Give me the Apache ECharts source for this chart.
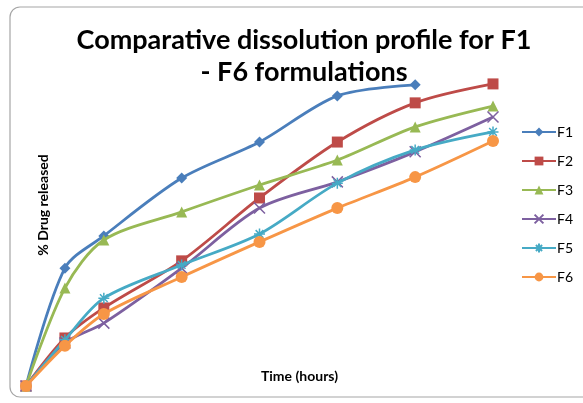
<!DOCTYPE html>
<html>
<head>
<meta charset="utf-8">
<script src="https://cdn.jsdelivr.net/npm/echarts@6/dist/echarts.min.js"></script>
<style>
  html, body { margin: 0; padding: 0; background: #fff; }
  #chart { width: 583px; height: 403px; }
</style>
</head>
<body>
<div id="chart"></div>
<script>
// Sampling times (hours)
var hours = [0, 0.5, 1, 2, 3, 4, 5, 6];

// Cumulative % drug released for each formulation
var f1 = [0, 37.3, 47.5, 65.8, 77.2, 91.8, 95.3];
var f2 = [0, 15.2, 24.7, 39.6, 59.5, 77.2, 89.6, 95.6];
var f3 = [0, 31.0, 46.2, 55.1, 63.6, 71.5, 82.0, 88.6];
var f4 = [0, 13.6, 19.9, 37.3, 56.3, 64.6, 74.1, 85.1];
var f5 = [0, 14.6, 27.8, 38.3, 48.1, 64.2, 74.7, 80.4];
var f6 = [0, 12.7, 22.8, 34.5, 45.6, 56.3, 66.1, 77.5];

var names = ['F1', 'F2', 'F3', 'F4', 'F5', 'F6'];
var colors = ['#4A7EBB', '#BE4B48', '#98B954', '#7D60A0', '#46AAC5', '#F79646'];
var symbols = [
  'diamond',
  'rect',
  'triangle',
  'path://M0,0L10,10M10,0L0,10',
  'path://M5,0L5,10M0,5L10,5M1.5,1.5L8.5,8.5M8.5,1.5L1.5,8.5',
  'circle'
];
var sizes = [11, 11, 11, 11, 11, 12];
var values = [f1, f2, f3, f4, f5, f6];

function pairs(v) {
  return v.map(function (y, i) { return [hours[i], y]; });
}

var series = values.map(function (v, i) {
  var outline = i === 3 || i === 4;
  return {
    name: names[i],
    type: 'line',
    data: pairs(v),
    smooth: 0.3,
    symbol: symbols[i],
    symbolSize: sizes[i],
    showAllSymbol: true,
    lineStyle: { color: colors[i], width: 2.8 },
    itemStyle: outline
      ? { color: colors[i], borderColor: colors[i], borderWidth: 1.5 }
      : { color: colors[i], borderWidth: 0 },
    emphasis: { disabled: true },
    z: 2 + i
  };
});

var chart = echarts.init(document.getElementById('chart'), null, { renderer: 'canvas' });
chart.setOption({
  animation: false,
  backgroundColor: '#ffffff',
  title: {
    text: 'Comparative dissolution profile for F1\n- F6 formulations',
    left: 299,
    top: 19,
    textAlign: 'center',
    textStyle: {
      fontFamily: 'Lato',
      fontWeight: 'bold',
      fontSize: 27,
      lineHeight: 32,
      color: '#000'
    }
  },
  graphic: [{
    type: 'rect',
    shape: { x: 10, y: 7, width: 600, height: 390, r: 10 },
    style: { fill: 'none', stroke: '#A6A6A6', lineWidth: 1.2 },
    silent: true,
    z: 0
  }],
  legend: {
    orient: 'vertical',
    left: 516,
    top: 120,
    itemWidth: 34,
    itemHeight: 11,
    itemGap: 15,
    data: names,
    textStyle: { fontFamily: 'Lato', fontSize: 14, color: '#000', padding: [0, 0, 0, -4] }
  },
  grid: { left: 26, right: 90, top: 70, bottom: 17 },
  xAxis: {
    type: 'value',
    min: 0,
    max: 6,
    name: 'Time (hours)',
    nameLocation: 'middle',
    nameGap: -17,
    nameTextStyle: {
      fontFamily: 'Lato', fontWeight: 'bold', fontSize: 14, color: '#000',
      padding: [0, 0, 0, 80]
    },
    axisLine: { show: false },
    axisTick: { show: false },
    axisLabel: { show: false },
    splitLine: { show: false }
  },
  yAxis: {
    type: 'value',
    min: 0,
    max: 100,
    name: '% Drug released',
    nameLocation: 'middle',
    nameGap: -24,
    nameRotate: 90,
    nameTextStyle: {
      fontFamily: 'Lato', fontWeight: 'bold', fontSize: 14, color: '#000',
      padding: [0, 0, 0, 46]
    },
    axisLine: { show: false },
    axisTick: { show: false },
    axisLabel: { show: false },
    splitLine: { show: false }
  },
  series: series
});
</script>
</body>
</html>
